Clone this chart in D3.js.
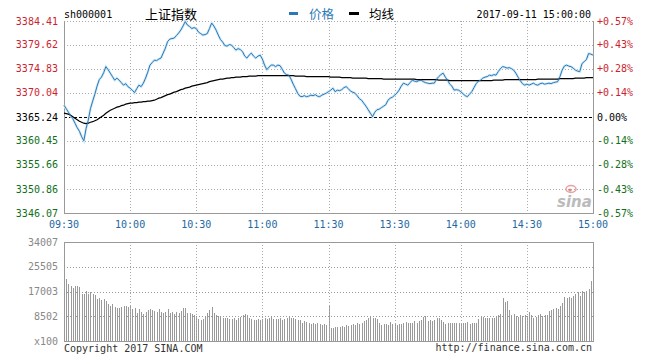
<!DOCTYPE html>
<html lang="en">
<head>
<meta charset="utf-8">
<title>上证指数 分时</title>
<script src="https://cdn.jsdelivr.net/npm/d3@7"></script>
<style>
  body { margin: 0; background: #fff; }
  svg { display: block; }
  .mono { font-family: 'DejaVu Sans Mono', monospace; font-size: 10px; }
  .cjk { font-family: 'Noto Sans CJK SC', sans-serif; }
</style>
</head>
<body>
<svg id="chart" width="652" height="362"></svg>
<script>
// ---- data ----
var symbol = "sh000001";
var title = "上证指数";
var stamp = "2017-09-11 15:00:00";
var prevClose = 3365.24;

var priceTicks = [3384.41, 3379.62, 3374.83, 3370.04, 3365.24, 3360.45, 3355.66, 3350.86, 3346.07];
var pctLabels = ["+0.57%", "+0.43%", "+0.28%", "+0.14%", "0.00%", "-0.14%", "-0.28%", "-0.43%", "-0.57%"];
var timeIdx = [0, 30, 60, 90, 120, 150, 180, 210, 240];
var timeLabels = ["09:30", "10:00", "10:30", "11:00", "11:30", "13:30", "14:00", "14:30", "15:00"];
var volTicks = [34007, 25505, 17003, 8502, 0];
var volLabels = ["34007", "25505", "17003", "8502", "x100"];

// one value per minute, 09:30 .. 11:30 then 13:00 .. 15:00
var price = [
  3367.6,3366.9,3366.2,3365.5,3364.9,3364.0,3363.1,3362.4,3361.3,3360.5,
  3362.9,3364.6,3366.9,3368.4,3369.8,3371.4,3372.7,3373.2,3374.1,3375.3,
  3374.7,3374.0,3373.3,3372.6,3373.0,3372.6,3372.1,3371.6,3371.9,3371.3,
  3371.0,3370.6,3370.1,3370.9,3371.6,3371.3,3372.0,3373.0,3374.2,3375.6,
  3376.1,3376.6,3376.5,3376.8,3377.0,3378.0,3379.0,3380.3,3380.8,3380.9,
  3381.0,3381.5,3382.0,3382.6,3383.4,3384.3,3383.6,3383.3,3382.9,3383.1,
  3382.9,3382.2,3381.9,3381.6,3381.7,3381.9,3382.9,3384.0,3383.4,3382.6,
  3381.6,3380.7,3380.2,3379.5,3379.4,3379.7,3379.6,3379.1,3378.6,3378.9,
  3378.7,3378.3,3377.4,3377.0,3377.6,3378.0,3377.4,3377.0,3377.4,3377.6,
  3376.8,3375.6,3374.7,3375.2,3375.6,3375.6,3375.3,3375.6,3375.5,3374.8,
  3374.0,3373.7,3373.6,3372.8,3371.8,3370.9,3370.0,3369.4,3369.3,3369.5,
  3369.3,3369.4,3369.6,3369.5,3369.7,3369.4,3369.3,3369.6,3369.8,3370.0,
  3370.3,3370.6,3371.0,3370.3,3370.6,3370.5,3370.7,3371.1,3371.3,3370.9,
  3370.4,3370.2,3370.0,3369.5,3368.9,3368.6,3368.0,3367.4,3366.7,3366.0,
  3365.3,3366.2,3366.7,3366.8,3367.1,3367.4,3367.7,3368.6,3369.0,3369.2,
  3369.6,3370.0,3370.6,3371.4,3372.0,3371.8,3371.6,3372.1,3372.6,3372.4,
  3372.3,3372.5,3372.6,3372.3,3372.1,3372.0,3371.9,3372.0,3372.0,3372.8,
  3373.3,3373.7,3374.0,3373.2,3372.6,3371.8,3371.4,3370.6,3370.7,3370.6,
  3370.3,3369.9,3369.5,3369.3,3369.8,3370.3,3371.1,3371.9,3372.4,3372.6,
  3373.0,3373.2,3373.3,3373.6,3373.5,3373.7,3373.6,3374.3,3374.9,3375.3,
  3375.2,3375.0,3375.1,3374.9,3374.6,3374.0,3373.2,3372.5,3371.9,3371.6,
  3371.8,3371.6,3371.8,3372.0,3371.7,3371.6,3371.9,3372.0,3371.8,3371.9,
  3372.0,3371.9,3372.1,3372.2,3372.3,3373.3,3374.6,3375.4,3375.6,3375.4,
  3375.3,3375.0,3374.6,3374.4,3374.3,3375.9,3376.3,3376.7,3377.9,3377.8,
  3377.6
];

var avgLine = [
  3366.0,3365.9,3365.8,3365.6,3365.3,3365.0,3364.7,3364.4,3364.2,3364.0,
  3363.9,3364.0,3364.2,3364.3,3364.5,3364.7,3365.0,3365.3,3365.6,3366.0,
  3366.3,3366.6,3366.8,3367.0,3367.2,3367.3,3367.5,3367.6,3367.8,3367.9,
  3368.0,3368.0,3368.1,3368.1,3368.2,3368.2,3368.3,3368.3,3368.4,3368.4,
  3368.5,3368.6,3368.8,3369.0,3369.1,3369.3,3369.5,3369.7,3369.8,3370.0,
  3370.2,3370.3,3370.5,3370.7,3370.8,3371.0,3371.1,3371.2,3371.4,3371.5,
  3371.6,3371.7,3371.8,3371.9,3372.0,3372.1,3372.3,3372.4,3372.5,3372.6,
  3372.7,3372.8,3372.8,3372.9,3373.0,3373.0,3373.1,3373.1,3373.2,3373.2,
  3373.2,3373.3,3373.3,3373.3,3373.4,3373.4,3373.4,3373.4,3373.5,3373.5,
  3373.5,3373.5,3373.5,3373.5,3373.5,3373.5,3373.5,3373.5,3373.5,3373.5,
  3373.5,3373.5,3373.5,3373.5,3373.5,3373.4,3373.4,3373.4,3373.4,3373.4,
  3373.3,3373.3,3373.3,3373.3,3373.3,3373.3,3373.3,3373.3,3373.3,3373.3,
  3373.3,3373.2,3373.2,3373.2,3373.2,3373.2,3373.1,3373.1,3373.1,3373.1,
  3373.1,3373.0,3373.0,3373.0,3373.0,3373.0,3373.0,3373.0,3372.9,3372.9,
  3372.9,3372.9,3372.9,3372.9,3372.9,3372.8,3372.8,3372.8,3372.8,3372.8,
  3372.8,3372.8,3372.8,3372.8,3372.8,3372.8,3372.8,3372.8,3372.8,3372.8,
  3372.7,3372.7,3372.7,3372.7,3372.7,3372.7,3372.7,3372.7,3372.7,3372.7,
  3372.6,3372.6,3372.6,3372.6,3372.6,3372.5,3372.5,3372.5,3372.5,3372.5,
  3372.5,3372.5,3372.5,3372.5,3372.5,3372.5,3372.5,3372.5,3372.5,3372.5,
  3372.5,3372.5,3372.5,3372.5,3372.5,3372.6,3372.6,3372.6,3372.6,3372.6,
  3372.7,3372.7,3372.7,3372.7,3372.7,3372.7,3372.7,3372.7,3372.7,3372.7,
  3372.7,3372.7,3372.7,3372.7,3372.7,3372.8,3372.8,3372.8,3372.8,3372.8,
  3372.8,3372.8,3372.8,3372.8,3372.8,3372.9,3372.9,3372.9,3372.9,3372.9,
  3372.9,3372.9,3373.0,3373.0,3373.0,3373.0,3373.0,3373.1,3373.1,3373.1,
  3373.1
];

// volume, in hundreds of lots
var volume = [
  21500,21183,19694,18893,18320,18893,18893,18549,16259,16259,17175,
  16030,16832,16259,15801,14313,14885,13969,14313,13740,12595,
  12023,12824,11679,11450,11221,11679,12023,12023,11679,12023,
  10878,11450,9733,10878,10076,9389,10076,10534,10878,10763,
  10305,10076,10878,10076,9733,10076,10878,9733,10076,9389,
  10076,9733,10305,11450,11450,9733,9733,9389,8931,8588,
  7443,7099,7443,8244,9733,10534,11679,9733,8931,8588,
  8588,8015,7786,8015,7443,7672,7786,7099,7786,8244,
  8931,9160,8931,8015,7443,7099,7099,7443,7099,7443,
  8015,7443,7786,8244,7443,7443,7443,8015,7099,7443,
  8015,8244,7786,7786,7443,7099,7099,6298,6870,6641,
  6298,5954,6298,5954,6298,5954,5496,5954,5496,12000,
  4580,4580,4809,4809,4809,5153,4809,5496,5153,5496,
  5954,5496,6298,5954,6298,6870,7099,8015,8588,7786,
  8015,7443,6298,5496,5725,5954,5496,6641,5725,5954,
  5496,5954,5725,6298,6641,6298,6298,6298,6870,6298,
  6870,7099,8244,8588,6870,7099,6870,7099,7786,8015,
  7099,6641,5954,6298,6298,6298,6298,6298,6298,6298,
  6298,6298,6641,5954,6298,6298,6298,7443,8588,8244,
  8015,8015,7786,8015,8015,8244,8931,9389,14885,13511,
  13740,10534,8931,9160,8588,8244,8931,8588,8931,8588,
  10076,8931,8015,8244,8931,9389,8588,8931,8931,10305,
  10534,10878,11221,10878,12023,13168,15114,14885,15114,14656,
  15458,16030,16946,15458,17175,16946,17175,17748,20610,22900
];

// ---- layout ----
var svg = d3.select("#chart");
var left = 64, right = 593;
var pTop = 21, pBottom = 213;
var vTop = 242, vBottom = 341;

var x = d3.scaleLinear().domain([0, 240]).range([left, right]);
var y = d3.scaleLinear().domain([priceTicks[8], priceTicks[0]]).range([pBottom, pTop]);
var yv = d3.scaleLinear().domain([0, volTicks[0]]).range([vBottom, vTop]);

var red = "#cc1f2f", green = "#11701a", blue = "#2a78b5";
function px(v) { return Math.round(v) + 0.5; }
function tickColor(v) { return v > prevClose + 0.001 ? red : (v < prevClose - 0.001 ? green : "#000"); }

// header
svg.append("text").attr("class", "mono").attr("x", 64).attr("y", 14)
  .attr("dominant-baseline", "central").attr("fill", "#000").text(symbol);
svg.append("text").attr("class", "cjk").attr("x", 145).attr("y", 13)
  .attr("dominant-baseline", "central").attr("font-size", 13).attr("fill", "#000").text(title);
svg.append("rect").attr("x", 289).attr("y", 12).attr("width", 9).attr("height", 3).attr("fill", blue);
svg.append("text").attr("class", "cjk").attr("x", 309).attr("y", 13)
  .attr("dominant-baseline", "central").attr("font-size", 12.5).attr("fill", blue).text("价格");
svg.append("rect").attr("x", 349).attr("y", 12).attr("width", 10).attr("height", 3).attr("fill", "#000");
svg.append("text").attr("class", "cjk").attr("x", 369).attr("y", 13)
  .attr("dominant-baseline", "central").attr("font-size", 12.5).attr("fill", "#000").text("均线");
svg.append("text").attr("class", "mono").attr("x", 591).attr("y", 14)
  .attr("text-anchor", "end").attr("dominant-baseline", "central").attr("fill", "#000").text(stamp);

// price grid
var grid = svg.append("g").attr("shape-rendering", "crispEdges");
grid.selectAll(".hg").data(priceTicks).enter().append("line")
  .attr("x1", left).attr("x2", right)
  .attr("y1", function(d) { return px(y(d)); }).attr("y2", function(d) { return px(y(d)); })
  .attr("stroke", function(d) { return d === prevClose ? "#000" : "#aaa"; })
  .attr("stroke-dasharray", function(d) { return d === prevClose ? "3,2" : "1,2"; });
grid.selectAll(".vg").data(timeIdx.slice(1, -1)).enter().append("line")
  .attr("x1", function(d) { return px(x(d)); }).attr("x2", function(d) { return px(x(d)); })
  .attr("y1", pTop).attr("y2", pBottom)
  .attr("stroke", "#aaa").attr("stroke-dasharray", "1,2");
grid.append("path")
  .attr("d", "M" + px(left) + "," + pTop + "V" + px(pBottom) + "H" + px(right) + "V" + pTop)
  .attr("fill", "none").attr("stroke", "#999");

// axis labels
svg.selectAll(".pl").data(priceTicks).enter().append("text")
  .attr("class", "mono").attr("x", 58).attr("y", function(d) { return y(d); })
  .attr("text-anchor", "end").attr("dominant-baseline", "central")
  .attr("fill", tickColor).text(function(d) { return d.toFixed(2); });
svg.selectAll(".rl").data(pctLabels).enter().append("text")
  .attr("class", "mono").attr("x", 597).attr("y", function(d, i) { return y(priceTicks[i]); })
  .attr("dominant-baseline", "central")
  .attr("fill", function(d, i) { return tickColor(priceTicks[i]); }).text(function(d) { return d; });
svg.selectAll(".tl").data(timeLabels).enter().append("text")
  .attr("class", "mono").attr("x", function(d, i) { return x(timeIdx[i]); }).attr("y", 224)
  .attr("text-anchor", "middle").attr("dominant-baseline", "central")
  .attr("fill", "#2368a2").text(function(d) { return d; });

// watermark
var wm = svg.append("g");
wm.append("ellipse").attr("cx", 571).attr("cy", 189).attr("rx", 5).attr("ry", 3.5)
  .attr("fill", "none").attr("stroke", "#e8a0a0").attr("stroke-width", 1.5);
wm.append("circle").attr("cx", 570).attr("cy", 190).attr("r", 1.6).attr("fill", "#d88");
wm.append("text").attr("x", 557).attr("y", 207).attr("font-family", "'DejaVu Sans', sans-serif")
  .attr("font-size", 15).attr("font-style", "italic").attr("font-weight", "bold")
  .attr("fill", "#bbb").text("sina");

// lines
var line = d3.line()
  .x(function(d, i) { return x(i); })
  .y(function(d) { return y(d); });
svg.append("path").datum(price).attr("d", line)
  .attr("fill", "none").attr("stroke", "#cfe9f7").attr("stroke-width", 2.6);
svg.append("path").datum(avgLine).attr("d", line)
  .attr("fill", "none").attr("stroke", "#000").attr("stroke-width", 1.2);
svg.append("path").datum(price).attr("d", line)
  .attr("fill", "none").attr("stroke", blue).attr("stroke-width", 1);

// volume panel
var vol = svg.append("g").attr("shape-rendering", "crispEdges");
vol.selectAll(".bar").data(volume).enter().append("rect")
  .attr("class", "bar")
  .attr("x", function(d, i) { return Math.round(x(i)); })
  .attr("y", function(d) { return yv(d); })
  .attr("width", 1)
  .attr("height", function(d) { return vBottom - yv(d); })
  .attr("fill", "#999");
vol.selectAll(".vh").data(volTicks.slice(1, -1)).enter().append("line")
  .attr("x1", left).attr("x2", right)
  .attr("y1", function(d) { return px(yv(d)); }).attr("y2", function(d) { return px(yv(d)); })
  .attr("stroke", "#999").attr("stroke-dasharray", "1,2");
vol.selectAll(".vv").data(timeIdx.slice(1, -1)).enter().append("line")
  .attr("x1", function(d) { return px(x(d)); }).attr("x2", function(d) { return px(x(d)); })
  .attr("y1", vTop).attr("y2", vBottom)
  .attr("stroke", "#aaa").attr("stroke-dasharray", "1,2");
vol.append("rect").attr("x", px(left)).attr("y", px(vTop))
  .attr("width", Math.round(right) - Math.round(left)).attr("height", Math.round(vBottom) - Math.round(vTop))
  .attr("fill", "none").attr("stroke", "#999");

svg.selectAll(".vl").data(volLabels).enter().append("text")
  .attr("class", "mono").attr("x", 58).attr("y", function(d, i) { return yv(volTicks[i]); })
  .attr("text-anchor", "end").attr("dominant-baseline", "central")
  .attr("fill", "#888").text(function(d) { return d; });

// footer
svg.append("text").attr("class", "mono").attr("x", 64).attr("y", 348)
  .attr("dominant-baseline", "central").attr("fill", "#333").text("Copyright 2017 SINA.COM");
svg.append("text").attr("class", "mono").attr("x", 592).attr("y", 347)
  .attr("text-anchor", "end").attr("dominant-baseline", "central").attr("fill", "#333")
  .text("http://finance.sina.com.cn");
</script>
</body>
</html>
